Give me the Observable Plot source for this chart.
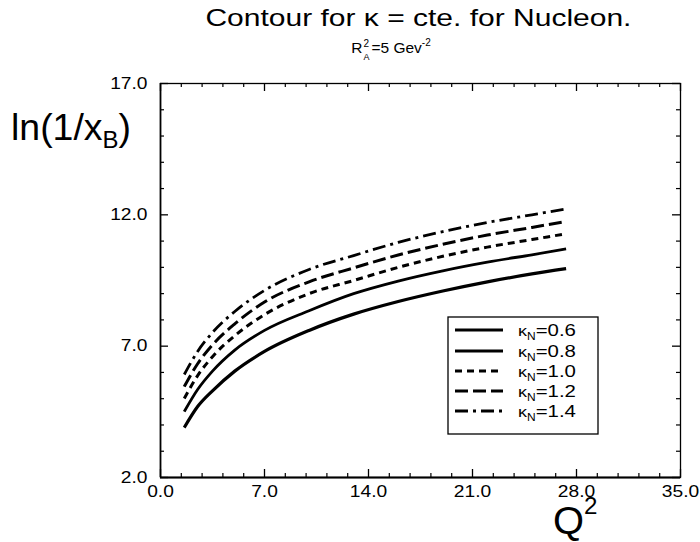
<!DOCTYPE html>
<html>
<head>
<meta charset="utf-8">
<script src="https://cdn.jsdelivr.net/npm/d3@7"></script>
<script src="https://cdn.jsdelivr.net/npm/@observablehq/plot@0.6"></script>
<style>
  body { margin: 0; background: #fff; font-family: "Liberation Sans", Arial, sans-serif; color: #000; }
  #page { position: relative; width: 700px; height: 542px; overflow: hidden; }
  #head { position: relative; width: 700px; height: 60px; }
  .centered { position: absolute; left: 0; text-align: center; white-space: nowrap; }
  .stretch { display: inline-block; transform: scaleX(1.25); transform-origin: 50% 50%; }
  #title { top: 4px; width: 836px; font-size: 24px; line-height: 28px; }
  #subtitle { top: 38px; width: 782px; font-size: 15.5px; line-height: 20px; }
  .pair { display: inline-block; position: relative; width: 9px; height: 11px; }
  .pair .up { position: absolute; left: 1px; top: -8px; font-size: 10px; }
  .pair .dn { position: absolute; left: 1px; top: 5px; font-size: 9px; }
  sup { font-size: 10px; vertical-align: 7px; line-height: 0; }
  #chart svg { display: block; }
</style>
</head>
<body>
<div id="page">
  <div id="head">
    <div id="title" class="centered"><span class="stretch">Contour for κ = cte. for Nucleon.</span></div>
    <div id="subtitle" class="centered"><span>R<span class="pair"><span class="up">2</span><span class="dn">A</span></span>=5 Gev<sup>-2</sup></span></div>
  </div>
  <div id="chart"></div>
</div>
<script>
// Q^2 sample points along each contour
const q2 = [1.6, 2.5, 3.5, 5, 7, 10, 13, 16, 19, 22, 25, 27.3];

// ln(1/x_B) along the contour for each kappa_N
const kappaN = ["0.6", "0.8", "1.0", "1.2", "1.4"];
const lnInvX_06 = [3.90, 4.70, 5.30, 6.05, 6.80, 7.60, 8.22, 8.70, 9.10, 9.45, 9.75, 9.95];
const lnInvX_08 = [4.51, 5.35, 6.05, 6.85, 7.60, 8.35, 9.00, 9.48, 9.87, 10.20, 10.48, 10.70];
const lnInvX_10 = [5.01, 5.88, 6.60, 7.40, 8.20, 9.00, 9.50, 10.00, 10.42, 10.77, 11.06, 11.28];
const lnInvX_12 = [5.46, 6.33, 7.05, 7.85, 8.68, 9.45, 9.98, 10.47, 10.88, 11.23, 11.52, 11.75];
const lnInvX_14 = [5.92, 6.80, 7.52, 8.32, 9.12, 9.92, 10.45, 10.95, 11.36, 11.71, 12.00, 12.22];

// axis ticks
const xMajor = [0, 7, 14, 21, 28, 35];
const yMajor = [2, 7, 12, 17];
const xMinor = d3.range(0, 35.001, 1.4).filter(v => Math.abs(v / 7 - Math.round(v / 7)) > 1e-6);
const yMinor = d3.range(2, 17.001, 1).filter(v => (v - 2) % 5 !== 0);

const seriesValues = [lnInvX_06, lnInvX_08, lnInvX_10, lnInvX_12, lnInvX_14];
const lineStyles = [
  {strokeWidth: 3.2, strokeDasharray: null},
  {strokeWidth: 2.8, strokeDasharray: null},
  {strokeWidth: 3, strokeDasharray: "7,5"},
  {strokeWidth: 3, strokeDasharray: "13,5"},
  {strokeWidth: 2.8, strokeDasharray: "13,5,3,5"}
];
const curves = kappaN.map((k, i) => q2.map((q, j) => ({k, q, v: seriesValues[i][j]})));

const W = 700, H = 482;
const mTop = 23, mBottom = 65, mLeft = 160, mRight = 20;
const frameW = W - mLeft - mRight, frameH = H - mTop - mBottom;
const font = "'Liberation Sans', Arial, sans-serif";

const chart = Plot.plot({
  width: W,
  height: H,
  marginTop: mTop,
  marginBottom: mBottom,
  marginLeft: mLeft,
  marginRight: mRight,
  style: {fontFamily: font, fontSize: "16px", color: "#000", background: "#fff"},
  x: {domain: [0, 35]},
  y: {domain: [2, 17]},
  marks: [
    // inward ticks on all four sides
    Plot.ruleX(xMajor, {insetTop: frameH - 8, stroke: "#000", strokeWidth: 1.3}),
    Plot.ruleX(xMinor, {insetTop: frameH - 4, stroke: "#000", strokeWidth: 1.2}),
    Plot.ruleX(xMajor, {insetBottom: frameH - 8, stroke: "#000", strokeWidth: 1.3}),
    Plot.ruleX(xMinor, {insetBottom: frameH - 4, stroke: "#000", strokeWidth: 1.2}),
    Plot.ruleY(yMajor, {insetRight: frameW - 8, stroke: "#000", strokeWidth: 1.3}),
    Plot.ruleY(yMinor, {insetRight: frameW - 4, stroke: "#000", strokeWidth: 1.2}),
    Plot.ruleY(yMajor, {insetLeft: frameW - 8, stroke: "#000", strokeWidth: 1.3}),
    Plot.ruleY(yMinor, {insetLeft: frameW - 4, stroke: "#000", strokeWidth: 1.2}),
    Plot.frame({stroke: "#000", strokeWidth: 1.3}),
    Plot.ruleY([2], {stroke: "#000", strokeWidth: 2}),
    Plot.ruleX([0], {stroke: "#000", strokeWidth: 1.6}),
    Plot.axisX({ticks: xMajor, tickSize: 0, tickPadding: 8, fontSize: 16, tickFormat: d => d.toFixed(1), label: null}),
    Plot.axisY({ticks: yMajor, tickSize: 0, tickPadding: 13, fontSize: 16, tickFormat: d => d.toFixed(1), label: null}),
    ...curves.map((c, i) => Plot.line(c, {
      x: "q", y: "v", stroke: "#000",
      strokeWidth: lineStyles[i].strokeWidth,
      strokeDasharray: lineStyles[i].strokeDasharray,
      strokeLinecap: "butt", curve: "monotone-x"
    }))
  ]
});

document.getElementById("chart").appendChild(chart);

const svg = d3.select(chart);
// widen the tick labels horizontally around their anchor points
svg.selectAll("text").each(function () {
  const t = this.getAttribute("transform");
  if (t) {
    this.setAttribute("transform", t + " scale(1.2,1)");
  } else {
    const x = +this.getAttribute("x") || 0, y = +this.getAttribute("y") || 0;
    this.removeAttribute("x");
    this.removeAttribute("y");
    this.setAttribute("transform", `translate(${x},${y}) scale(1.2,1)`);
  }
});

// y axis title: ln(1/x_B)
const yTitle = svg.append("text")
  .attr("transform", "translate(11,80) scale(1.04,1)")
  .attr("text-anchor", "start")
  .attr("font-size", 36).attr("fill", "#000");
yTitle.append("tspan").text("ln(1/x");
yTitle.append("tspan").attr("font-size", 23).attr("dy", 8).text("B");
yTitle.append("tspan").attr("dy", -8).text(")");

// x axis title: Q^2
const xTitle = svg.append("text")
  .attr("transform", "translate(553,474) scale(1.05,1)")
  .attr("text-anchor", "start")
  .attr("font-size", 38).attr("fill", "#000");
xTitle.append("tspan").text("Q");
xTitle.append("tspan").attr("font-size", 23).attr("dy", -20).text("2");

// legend
const legend = svg.append("g").attr("text-anchor", "start");
legend.append("rect")
  .attr("x", 448).attr("y", 257).attr("width", 150).attr("height", 117)
  .attr("fill", "#fff").attr("stroke", "#000").attr("stroke-width", 1.3);
const rowY = [270, 291, 311, 331, 351];
kappaN.forEach((k, i) => {
  legend.append("line")
    .attr("x1", 455).attr("x2", 503).attr("y1", rowY[i]).attr("y2", rowY[i])
    .attr("stroke", "#000").attr("stroke-width", lineStyles[i].strokeWidth)
    .attr("stroke-dasharray", lineStyles[i].strokeDasharray);
  const t = legend.append("text")
    .attr("transform", `translate(518,${rowY[i] + 6}) scale(1.2,1)`)
    .attr("font-size", 17).attr("fill", "#000");
  t.append("tspan").attr("font-size", 15).text("κ");
  t.append("tspan").attr("font-size", 10).attr("dy", 4).text("N");
  t.append("tspan").attr("dy", -4).text("=" + k);
});
</script>
</body>
</html>
